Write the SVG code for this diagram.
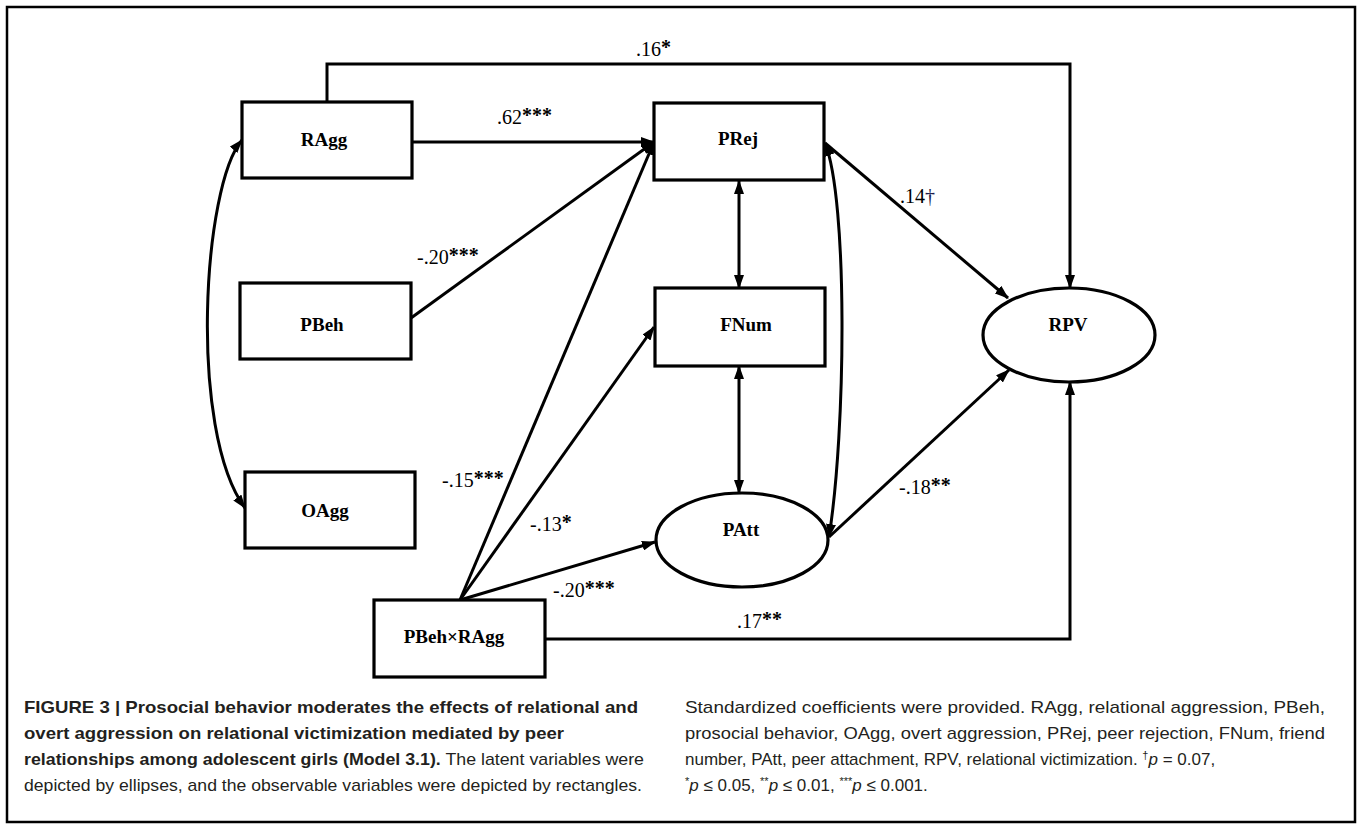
<svg xmlns="http://www.w3.org/2000/svg" width="1362" height="827" viewBox="0 0 1362 827">
<defs>
<marker id="ah" markerUnits="userSpaceOnUse" markerWidth="14" markerHeight="10" refX="13" refY="5" orient="auto-start-reverse">
<path d="M0,0 L14,5 L0,10 z" fill="#000"/>
</marker>
<style>
.box{fill:#fff;stroke:#000;stroke-width:3.2}
.lbl{font-family:"Liberation Serif",serif;font-weight:bold;font-size:19px;fill:#000;text-anchor:middle}
.co{font-family:"Liberation Serif",serif;font-size:20px;fill:#000}
.st{font-weight:bold;font-size:20px}
.ln{fill:none;stroke:#000;stroke-width:3}
.cap{font-family:"Liberation Sans",Arial,sans-serif;font-size:17px;fill:#231f20}
.b{font-weight:bold}
</style>
</defs>
<rect x="7" y="7" width="1348" height="815" fill="#fff" stroke="#000" stroke-width="2.5"/>
<g id="connectors">
<path class="ln" d="M327,102 V64 H1070 V288" marker-end="url(#ah)"/>
<path class="ln" d="M412,142 H654" marker-end="url(#ah)"/>
<path class="ln" d="M411,318 L654,142" marker-end="url(#ah)"/>
<path class="ln" d="M460,600 L654,142" marker-end="url(#ah)"/>
<path class="ln" d="M460,600 L654,327" marker-end="url(#ah)"/>
<path class="ln" d="M460,600 L655,542" marker-end="url(#ah)"/>
<path class="ln" d="M545,639 H1070 V382" marker-end="url(#ah)"/>
<path class="ln" d="M739,181 V288" marker-start="url(#ah)" marker-end="url(#ah)"/>
<path class="ln" d="M739,366 V493" marker-start="url(#ah)" marker-end="url(#ah)"/>
<path class="ln" d="M825,143 C848,200 846,430 829,537" marker-start="url(#ah)" marker-end="url(#ah)"/>
<path class="ln" d="M825,143 L1008,298" marker-end="url(#ah)"/>
<path class="ln" d="M829,537 L1009,370" marker-end="url(#ah)"/>
<path class="ln" d="M242,140 C203,185 188,430 245,508" marker-start="url(#ah)" marker-end="url(#ah)"/>
<text class="co" x="636" y="56">.16<tspan class="st" dy="-2">*</tspan></text>
<text class="co" x="497" y="124">.62<tspan class="st" dy="-2">***</tspan></text>
<text class="co" x="417" y="264">-.20<tspan class="st" dy="-2">***</tspan></text>
<text class="co" x="900" y="203">.14<tspan fill="#1b1b4b">†</tspan></text>
<text class="co" x="442" y="487">-.15<tspan class="st" dy="-2">***</tspan></text>
<text class="co" x="530" y="531">-.13<tspan class="st" dy="-2">*</tspan></text>
<text class="co" x="553" y="597">-.20<tspan class="st" dy="-2">***</tspan></text>
<text class="co" x="899" y="494">-.18<tspan class="st" dy="-2">**</tspan></text>
<text class="co" x="737" y="628">.17<tspan class="st" dy="-2">**</tspan></text>
</g>
<g id="RAgg"><rect class="box" x="242" y="102" width="170" height="76"/><text class="lbl" x="324" y="146">RAgg</text></g>
<g id="PBeh"><rect class="box" x="240" y="283" width="171" height="76"/><text class="lbl" x="322" y="331">PBeh</text></g>
<g id="OAgg"><rect class="box" x="245" y="472" width="170" height="76"/><text class="lbl" x="325" y="517">OAgg</text></g>
<g id="PBehxRAgg"><rect class="box" x="374" y="600" width="171" height="77"/><text class="lbl" x="454" y="643">PBeh×RAgg</text></g>
<g id="PRej"><rect class="box" x="654" y="103" width="170" height="77"/><text class="lbl" x="738" y="145">PRej</text></g>
<g id="FNum"><rect class="box" x="655" y="288" width="170" height="78"/><text class="lbl" x="746" y="331">FNum</text></g>
<g id="PAtt"><ellipse class="box" cx="742" cy="540" rx="86" ry="47"/><text class="lbl" x="741" y="536">PAtt</text></g>
<g id="RPV"><ellipse class="box" cx="1069" cy="335" rx="86" ry="47"/><text class="lbl" x="1068" y="331">RPV</text></g>
<g id="caption">
<text class="cap" x="24" y="713" textLength="614" lengthAdjust="spacingAndGlyphs"><tspan class="b">FIGURE 3 | Prosocial behavior moderates the effects of relational and</tspan></text>
<text class="cap" x="24" y="739" textLength="540" lengthAdjust="spacingAndGlyphs"><tspan class="b">overt aggression on relational victimization mediated by peer</tspan></text>
<text class="cap" x="24" y="765" textLength="620" lengthAdjust="spacingAndGlyphs"><tspan class="b">relationships among adolescent girls (Model 3.1).</tspan> The latent variables were</text>
<text class="cap" x="24" y="791" textLength="618" lengthAdjust="spacingAndGlyphs">depicted by ellipses, and the observable variables were depicted by rectangles.</text>
<text class="cap" x="685" y="713" textLength="640" lengthAdjust="spacingAndGlyphs">Standardized coefficients were provided. RAgg, relational aggression, PBeh,</text>
<text class="cap" x="685" y="739" textLength="640" lengthAdjust="spacingAndGlyphs">prosocial behavior, OAgg, overt aggression, PRej, peer rejection, FNum, friend</text>
<text class="cap" x="685" y="765">number, PAtt, peer attachment, RPV, relational victimization. <tspan font-size="11" dy="-6">†</tspan><tspan font-style="italic" dy="6">p</tspan> = 0.07,</text>
<text class="cap" x="685" y="791"><tspan font-size="11" dy="-6">*</tspan><tspan font-style="italic" dy="6">p</tspan> ≤ 0.05, <tspan font-size="11" dy="-6">**</tspan><tspan font-style="italic" dy="6">p</tspan> ≤ 0.01, <tspan font-size="11" dy="-6">***</tspan><tspan font-style="italic" dy="6">p</tspan> ≤ 0.001.</text>
</g>
</svg>
